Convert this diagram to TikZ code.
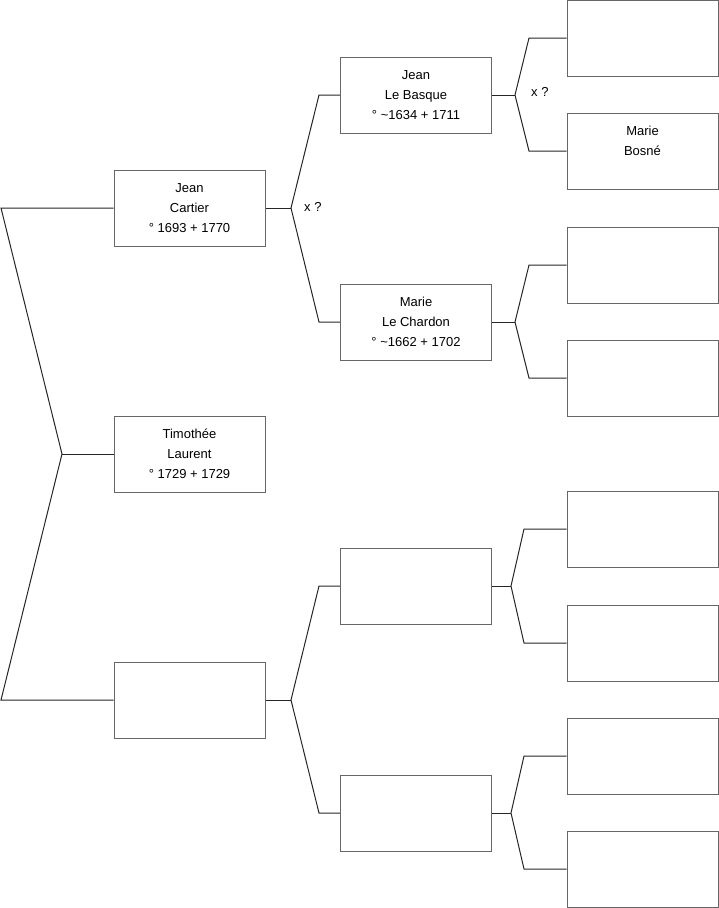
\documentclass[tikz,border=0pt]{standalone}
\usepackage{fontspec}
\setmainfont{Liberation Sans}
\begin{document}
\begin{tikzpicture}[x=1pt,y=-1pt,
  box/.style={draw=black!60, line width=1pt, minimum width=151pt, minimum height=76pt, inner sep=0pt, align=center, font=\fontsize{13}{20}\selectfont},
  link/.style={draw=black!85, line width=1pt, line join=miter},
  lbl/.style={anchor=west, inner sep=0pt, font=\fontsize{13}{16}\selectfont}]
\useasboundingbox (0,0) rectangle (719,908);
% column 1
\node[box] (a) at (189.5,208) {Jean\\Cartier\\° 1693 + 1770};
\node[box] (b) at (189.5,454) {Timothée\\Laurent\\° 1729 + 1729};
\node[box] (c) at (189.5,700) {};
% column 2
\node[box] (d) at (416,95) {Jean\\Le Basque\\° \textasciitilde1634 + 1711};
\node[box] (e) at (416,322) {Marie\\Le Chardon\\° \textasciitilde1662 + 1702};
\node[box] (f) at (416,586) {};
\node[box] (g) at (416,813) {};
% column 3
\node[box] (h1) at (642.5,38) {};
\node[box] (h2) at (642.5,151) {Marie\\Bosné\\\phantom{x}};
\node[box] (h3) at (642.5,265) {};
\node[box] (h4) at (642.5,378) {};
\node[box] (h5) at (642.5,529) {};
\node[box] (h6) at (642.5,643) {};
\node[box] (h7) at (642.5,756) {};
\node[box] (h8) at (642.5,869) {};
% left bracket
\coordinate (L1) at (1,208);
\coordinate (L2) at (1,700);
\coordinate (La) at (62,454);
\draw[link] (a.west) -- (L1) -- (La) -- (L2) -- (c.west);
\draw[link] (La) -- (b.west);
% fork from a
\coordinate (fa) at (291,208);
\coordinate (fa1) at (319,95);
\coordinate (fa2) at (319,322);
\draw[link] (a.east) -- (fa);
\draw[link] (d.west) -- (fa1) -- (fa) -- (fa2) -- (e.west);
\node[lbl] (xa) at (304,207) {x ?};
% fork from c
\coordinate (fc) at (291,700);
\coordinate (fc1) at (319,586);
\coordinate (fc2) at (319,813);
\draw[link] (c.east) -- (fc);
\draw[link] (f.west) -- (fc1) -- (fc) -- (fc2) -- (g.west);
% fork from d
\coordinate (fd) at (515,95);
\coordinate (fd1) at (529,38);
\coordinate (fd2) at (529,151);
\draw[link] (d.east) -- (fd);
\draw[link] (h1.west) -- (fd1) -- (fd) -- (fd2) -- (h2.west);
\node[lbl] (xd) at (531,92) {x ?};
% fork from e
\coordinate (fe) at (515,322);
\coordinate (fe1) at (529,265);
\coordinate (fe2) at (529,378);
\draw[link] (e.east) -- (fe);
\draw[link] (h3.west) -- (fe1) -- (fe) -- (fe2) -- (h4.west);
% fork from f
\coordinate (ff) at (511,586);
\coordinate (ff1) at (524,529);
\coordinate (ff2) at (524,643);
\draw[link] (f.east) -- (ff);
\draw[link] (h5.west) -- (ff1) -- (ff) -- (ff2) -- (h6.west);
% fork from g
\coordinate (fg) at (511,813);
\coordinate (fg1) at (524,756);
\coordinate (fg2) at (524,869);
\draw[link] (g.east) -- (fg);
\draw[link] (h7.west) -- (fg1) -- (fg) -- (fg2) -- (h8.west);
\end{tikzpicture}
\end{document}
